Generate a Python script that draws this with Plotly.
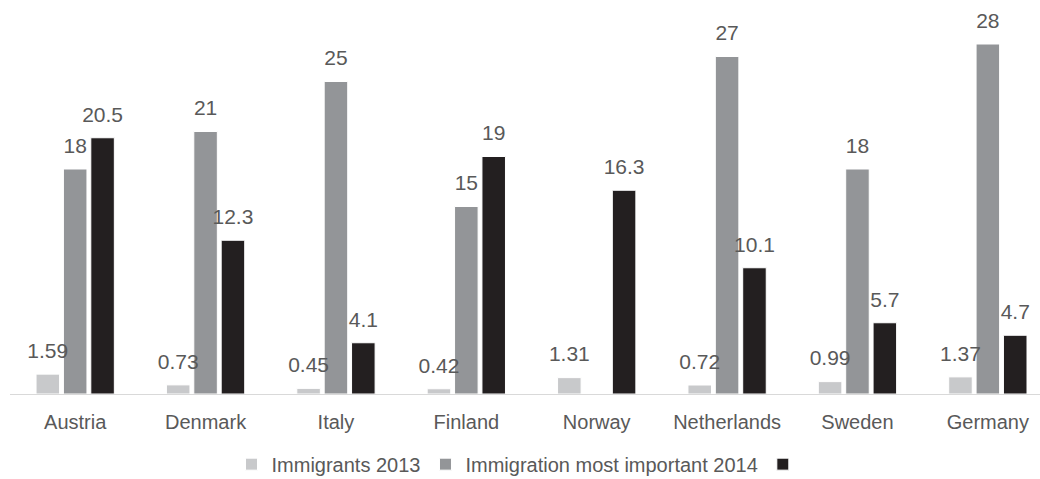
import plotly.graph_objects as go

countries = ["Austria", "Denmark", "Italy", "Finland", "Norway", "Netherlands", "Sweden", "Germany"]
immigrants_2013 = [1.59, 0.73, 0.45, 0.42, 1.31, 0.72, 0.99, 1.37]
immig_important_2014 = [18, 21, 25, 15, None, 27, 18, 28]
third_series = [20.5, 12.3, 4.1, 19, 16.3, 10.1, 5.7, 4.7]

series = [
    ("Immigrants 2013", immigrants_2013, "#c8c9cb"),
    ("Immigration most important 2014", immig_important_2014, "#939598"),
    ("", third_series, "#231f20"),
]

FONT = "Liberation Sans, Arial, sans-serif"
LABEL = "#595959"

fig = go.Figure()
for i, (name, vals, color) in enumerate(series):
    fig.add_trace(go.Bar(
        x=countries, y=vals, name=name, offsetgroup=str(i),
        marker=dict(color=color, line=dict(color="white", width=1)),
        hoverinfo="x+y",
    ))
for i, (name, vals, color) in enumerate(series):
    fig.add_trace(go.Scatter(
        x=countries, y=vals, offsetgroup=str(i), mode="markers+text",
        marker=dict(size=16, color="rgba(0,0,0,0)"),
        text=[("" if v is None else f"{v:g}") for v in vals],
        textposition="top center", cliponaxis=False, showlegend=False,
        textfont=dict(family=FONT, size=21, color=LABEL), hoverinfo="skip",
    ))

fig.update_layout(
    width=1040, height=479,
    margin=dict(l=10, r=0, t=19, b=85, autoexpand=False),
    paper_bgcolor="white", plot_bgcolor="white",
    barmode="group", bargap=0.37, bargroupgap=0.14,
    scattermode="group", scattergap=0.37,
    font=dict(family=FONT, size=20, color=LABEL),
    showlegend=True,
    legend=dict(orientation="h", x=0.5, xanchor="center", xref="container",
                y=0.031, yanchor="middle", yref="container",
                font=dict(size=20, color=LABEL), itemwidth=30),
    xaxis=dict(range=[-0.5, 7.4], showline=True, linecolor="#d9d9d9", linewidth=1,
               ticks="", showgrid=False, ticklabelstandoff=10, automargin=False,
               tickfont=dict(size=20, color=LABEL)),
    yaxis=dict(range=[0, 30], visible=False, showgrid=False, zeroline=False),
)

fig.write_html("out.html")
